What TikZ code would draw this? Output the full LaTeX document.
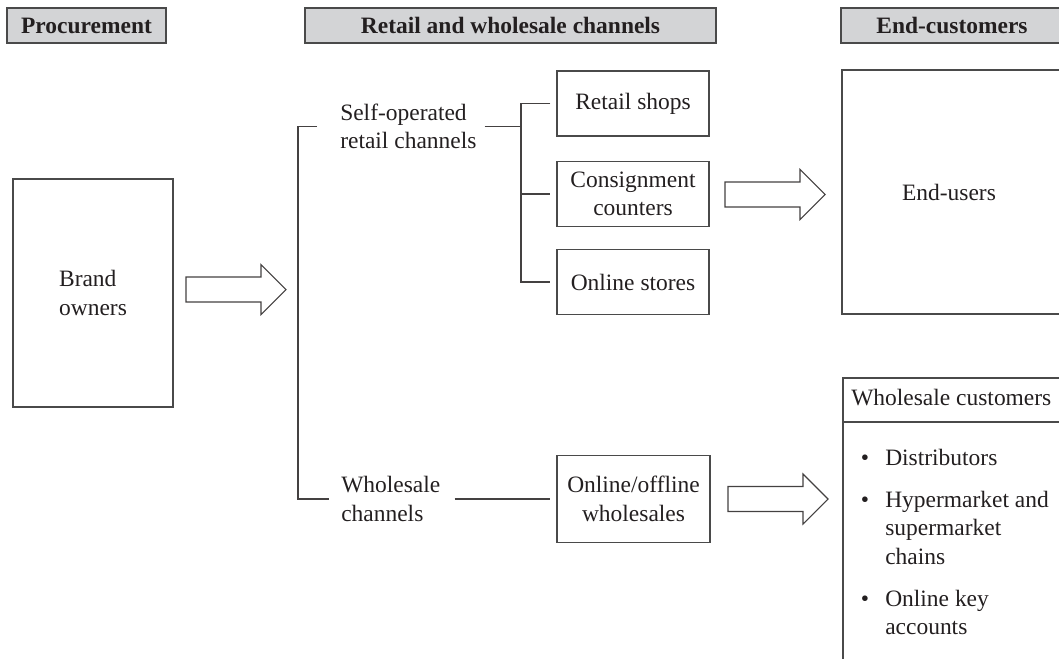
\documentclass[tikz,border=0pt]{standalone}
\usepackage{fontspec}
\setmainfont{Liberation Serif}
\usetikzlibrary{calc}
\definecolor{hdrfill}{HTML}{D3D4D6}
\definecolor{ink}{HTML}{231F20}
\definecolor{edge}{HTML}{4A4A4A}
\tikzset{
  hdr/.style={draw=edge, fill=hdrfill, line width=0.9pt, inner sep=0pt, minimum height=26.25pt, font=\fontsize{17.6pt}{21.4pt}\selectfont\bfseries, text=ink},
  box/.style={draw=edge, line width=0.8pt, inner sep=0pt, text=ink, align=center},
  lbl/.style={inner sep=0pt, text=ink, align=left},
  conn/.style={draw=ink!85, line width=0.8pt},
  barrowstyle/.style={draw=ink!85, line width=0.8pt, line join=miter, fill=white},
}
\newcommand\bigarrow[2]{%
  \draw[barrowstyle] (#1,#2-12.5) -- ++(75,0) -- ++(0,-12.5) -- ++(25,25) -- ++(-25,25) -- ++(0,-12.5) -- ++(-75,0) -- cycle;}
\newcommand\wcbul{\makebox[17.25pt][l]{\hspace{-1pt}\textbullet}}
\begin{document}
\begin{tikzpicture}[x=0.75pt,y=-0.75pt,font=\fontsize{17.6pt}{21.4pt}\selectfont]
\useasboundingbox (0,0) rectangle (1059,658);
\clip (0,0) rectangle (1059,658);
% headers
\node[hdr, minimum width=119.25pt] (proc) at (86.5,25.5) {Procurement};
\node[hdr, minimum width=308.25pt] (rwhdr) at (510.5,25.5) {Retail and wholesale channels};
\node[hdr, minimum width=166.5pt] (endhdr) at (952,25.5) {End-customers};
% brand owners
\node[box, align=left, minimum width=120pt, minimum height=171pt] (brand) at (93,293) {Brand\\owners};
\bigarrow{186}{289.5}
% channel labels
\node[lbl, anchor=west] (selfop) at (340,126.5) {Self-operated\\retail channels};
\node[lbl, anchor=west] (whch) at (341,499) {Wholesale\\channels};
\coordinate (bl) at (298,499);
\coordinate (rb) at (521,0);
\draw[conn] ([xshift=-17.25pt]selfop.west) -| (bl) -- ([xshift=-9pt]whch.west);
% retail boxes
\node[box, minimum width=114pt, minimum height=48.75pt] (retail) at (633,103.5) {Retail shops};
\node[box, minimum width=114pt, minimum height=48.75pt] (consign) at (633,194) {Consignment\\counters};
\node[box, minimum width=114pt, minimum height=48.75pt] (online) at (633,282) {Online stores};
\draw[conn] ([xshift=6pt]selfop.east) -- (selfop.east -| rb);
\draw[conn] ([xshift=-4.5pt]retail.west) -- (retail.west -| rb) -- (online.west -| rb) -- ([xshift=-4.5pt]online.west);
\draw[conn] (consign.west -| rb) -- ([xshift=-4.5pt]consign.west);
% wholesale
\node[box, minimum width=114.75pt, minimum height=65.25pt] (onoff) at (633.5,499) {Online/offline\\wholesales};
\draw[conn] ([xshift=10.5pt]whch.east) -- ([xshift=-4.5pt]onoff.west);
\bigarrow{725}{194.5}
\bigarrow{728}{499}
% end customers
\node[box, minimum width=166.5pt, minimum height=183pt] (endusers) at (953,192) {};
\node[lbl] (eutext) at (949,192) {End-users};
\node[box, minimum width=166.5pt, minimum height=241.5pt] (wcbox) at (954,539) {};
\node[lbl, anchor=west] (wchdr) at (851,398) {Wholesale customers};
\draw[draw=edge, line width=0.8pt] (wcbox.west |- 0,422) -- (wcbox.east |- 0,422);
\node[lbl, anchor=north west] (wclist) at (862,445)
  {\begin{tabular}{@{}l@{}l@{}}
   \wcbul & Distributors\\[10pt]
   \wcbul & Hypermarket and\\
          & supermarket\\
          & chains\\[10pt]
   \wcbul & Online key\\
          & accounts
   \end{tabular}};
\end{tikzpicture}
\end{document}
